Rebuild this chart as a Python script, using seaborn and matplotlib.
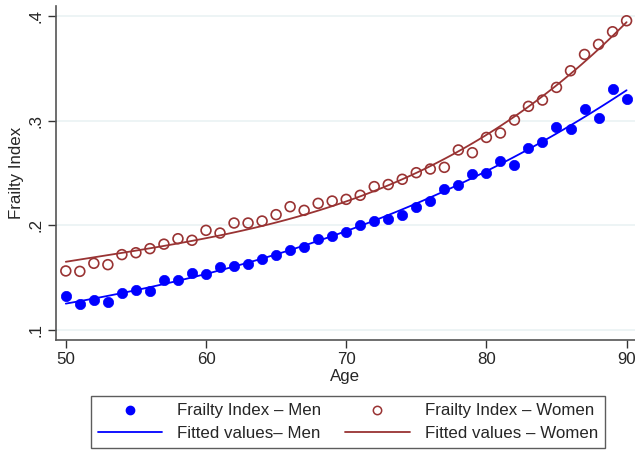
import numpy as np
import pandas as pd
import matplotlib
matplotlib.use("Agg")
import matplotlib.pyplot as plt
import seaborn as sns
from matplotlib.lines import Line2D

ages = list(range(50, 91))
fi_men = [0.1325, 0.125, 0.129, 0.127, 0.135, 0.138, 0.137, 0.148, 0.148, 0.154,
          0.153, 0.160, 0.161, 0.163, 0.1675, 0.172, 0.176, 0.179, 0.187, 0.190,
          0.194, 0.200, 0.204, 0.206, 0.210, 0.2175, 0.2235, 0.2345, 0.239, 0.2495,
          0.2497, 0.261, 0.258, 0.2735, 0.2795, 0.294, 0.2917, 0.3114, 0.3025, 0.330,
          0.3206]
fi_women = [0.1564, 0.156, 0.1637, 0.1624, 0.172, 0.1738, 0.1777, 0.182, 0.1872, 0.1857,
            0.1952, 0.1926, 0.2022, 0.2022, 0.2041, 0.2102, 0.2178, 0.2143, 0.221, 0.2232,
            0.2248, 0.2287, 0.237, 0.239, 0.244, 0.2503, 0.2538, 0.2554, 0.272, 0.2694,
            0.284, 0.2882, 0.3006, 0.3137, 0.3197, 0.3318, 0.3477, 0.3633, 0.3729, 0.3850,
            0.3955]
# fitted values every 5 years
fit_ages = [50, 55, 60, 65, 70, 75, 80, 85, 90]
fit_men = [0.1248, 0.1385, 0.1540, 0.1720, 0.1940, 0.2205, 0.2520, 0.2885, 0.3286]
fit_women = [0.1659, 0.1748, 0.1869, 0.2032, 0.2240, 0.2505, 0.2860, 0.3324, 0.3950]

x_ticks = [50, 60, 70, 80, 90]
y_ticks = [0.1, 0.2, 0.3, 0.4]
y_tick_labels = [".1", ".2", ".3", ".4"]
legend_labels = ["Frailty Index – Men", "Frailty Index – Women",
                 "Fitted values– Men", "Fitted values – Women"]

df = pd.DataFrame({"age": ages, "men": fi_men, "women": fi_women})
dfit = pd.DataFrame({"age": fit_ages, "men": fit_men, "women": fit_women})

sns.set_theme(style="white")
plt.rcParams['font.family'] = ['Liberation Sans', 'DejaVu Sans']

BLUE = "#0000FF"
MAROON = "#993333"
FS = 12.2

fig = plt.figure(figsize=(6.35, 4.51), dpi=100)
ax = fig.add_axes([56/635, 1-340/451, 1-56/635, (340-6)/451])

for yt in y_ticks:
    ax.axhline(yt, color="#EAF2F3", lw=1.2, zorder=0)

sns.regplot(data=dfit, x="age", y="men", order=3, scatter=False, ci=None,
            color=BLUE, line_kws={"lw": 1.3}, ax=ax, truncate=True)
sns.regplot(data=dfit, x="age", y="women", order=3, scatter=False, ci=None,
            color=MAROON, line_kws={"lw": 1.3}, ax=ax, truncate=True)
sns.scatterplot(data=df, x="age", y="men", color=BLUE, s=55, edgecolor=BLUE,
                linewidth=0.5, ax=ax, zorder=3)
ax.scatter(df["age"], df["women"], s=50, facecolors="none", edgecolors=MAROON,
           linewidths=1.2, zorder=3)

ax.set_xlim(49.3, 90.6)
ax.set_ylim(0.0904, 0.4096)
ax.set_xticks(x_ticks)
ax.set_xticklabels([str(t) for t in x_ticks], fontsize=FS)
ax.set_yticks(y_ticks)
ax.set_yticklabels(y_tick_labels, fontsize=FS, rotation=90, va="center")
ax.set_xlabel("Age", fontsize=FS, labelpad=1)
ax.set_ylabel("Frailty Index", fontsize=FS, labelpad=3)

for s in ["top", "right"]:
    ax.spines[s].set_visible(False)
for s in ["left", "bottom"]:
    ax.spines[s].set_color("#555555")
    ax.spines[s].set_linewidth(1.2)
ax.tick_params(axis="both", which="both", direction="out", length=6, width=1,
               color="#333333", left=True, bottom=True, pad=3)

h_men = Line2D([], [], marker="o", ls="none", color=BLUE, markersize=6)
h_women = Line2D([], [], marker="o", ls="none", markerfacecolor="none",
                 markeredgecolor=MAROON, markeredgewidth=1.1, markersize=6)
h_fmen = Line2D([], [], color=BLUE, lw=1.3)
h_fwomen = Line2D([], [], color=MAROON, lw=1.3)
handles = [h_men, h_fmen, h_women, h_fwomen]
labels = [legend_labels[0], legend_labels[2], legend_labels[1], legend_labels[3]]
leg = fig.legend(handles, labels, ncol=2, loc="center",
                 bbox_to_anchor=(348/635, 1-422/451), fontsize=FS,
                 frameon=True, fancybox=False, edgecolor="#333333",
                 handlelength=3.8, columnspacing=1.4, handletextpad=0.9,
                 labelspacing=0.42, borderpad=0.42)
leg.get_frame().set_linewidth(1.0)

fig.savefig("out.png", dpi=100)
